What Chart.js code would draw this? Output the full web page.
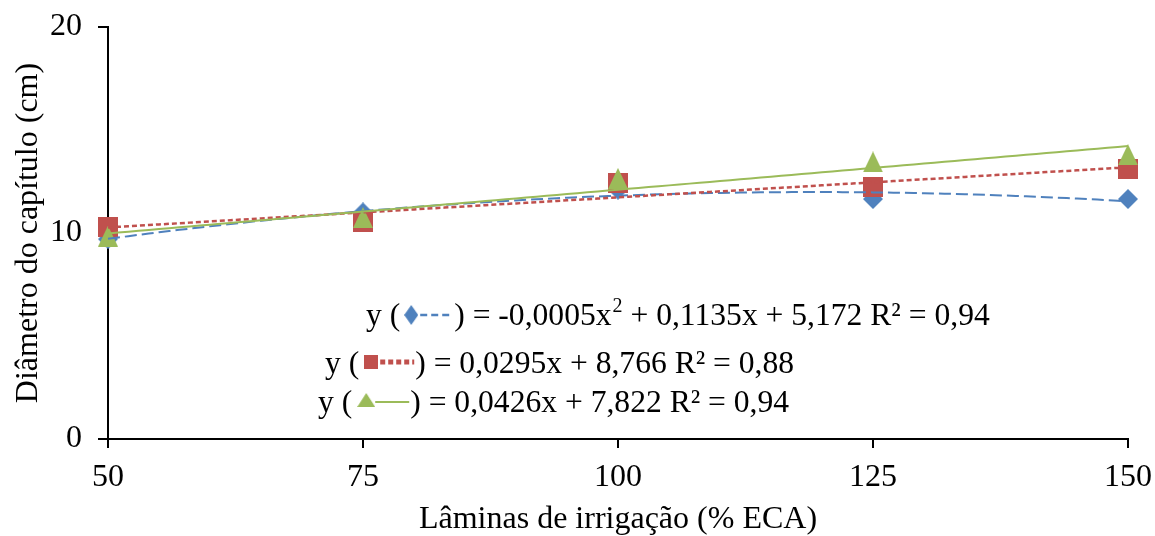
<!DOCTYPE html>
<html>
<head>
<meta charset="utf-8">
<script src="https://cdn.jsdelivr.net/npm/chart.js@4.4.1/dist/chart.umd.min.js"></script>
<style>
  html, body { margin: 0; padding: 0; background: #ffffff; }
  #wrap { width: 1155px; height: 536px; position: relative; }
  canvas { display: block; }
</style>
</head>
<body>
<div id="wrap"><canvas id="chart" width="1155" height="536"></canvas></div>
<script>
// Irrigation depths (% ECA) and measured head diameter (cm) for three treatments
const laminas = [50, 75, 100, 125, 150];
const diamBlue = [9.7, 11.0, 12.1, 11.65, 11.65];
const diamRed = [10.3, 10.55, 12.45, 12.25, 13.1];
const diamGreen = [9.85, 10.75, 12.65, 13.45, 13.8];

const xTicks = [50, 75, 100, 125, 150];
const yTicks = [0, 10, 20];

const xTitle = 'Lâminas de irrigação (% ECA)';
const yTitle = 'Diâmetro do capítulo (cm)';

// Regression equations shown on the plot: [before superscript, superscript, after]
const eqBlue = [') = -0,0005x', '2', ' + 0,1135x + 5,172 R² = 0,94'];
const eqRed = [') = 0,0295x + 8,766 R² = 0,88'];
const eqGreen = [') = 0,0426x + 7,822 R² = 0,94'];

const BLUE = '#4F81BD';
const RED = '#C0504D';
const GREEN = '#9BBB59';
const FONT = '"Liberation Serif", "Times New Roman", serif';

// Least-squares polynomial fit (trendline), returns coefficients c0..cn
function polyfit(xs, ys, order) {
  const n = order + 1;
  const A = [];
  for (let r = 0; r < n; r++) {
    A.push(new Array(n + 1).fill(0));
    for (let c = 0; c < n; c++) {
      A[r][c] = xs.reduce((s, x) => s + Math.pow(x, r + c), 0);
    }
    A[r][n] = xs.reduce((s, x, i) => s + ys[i] * Math.pow(x, r), 0);
  }
  for (let p = 0; p < n; p++) {
    let m = p;
    for (let r = p + 1; r < n; r++) if (Math.abs(A[r][p]) > Math.abs(A[m][p])) m = r;
    [A[p], A[m]] = [A[m], A[p]];
    for (let r = 0; r < n; r++) {
      if (r === p) continue;
      const f = A[r][p] / A[p][p];
      for (let c = p; c <= n; c++) A[r][c] -= f * A[p][c];
    }
  }
  return A.map((row, i) => row[n] / row[i]);
}

function trend(xs, ys, order) {
  const k = polyfit(xs, ys, order);
  const pts = [];
  for (let x = xs[0]; x <= xs[xs.length - 1]; x += 1) {
    pts.push({ x, y: k.reduce((s, c, i) => s + c * Math.pow(x, i), 0) });
  }
  return pts;
}

function pairs(xs, ys) { return xs.map((x, i) => ({ x, y: ys[i] })); }

// Filled marker shapes, drawn centred on each data point
function marker(shape, color, w, h) {
  const c = document.createElement('canvas');
  c.width = w; c.height = h;
  const g = c.getContext('2d');
  g.fillStyle = color;
  g.beginPath();
  if (shape === 'diamond') {
    g.moveTo(w / 2, 0); g.lineTo(w, h / 2); g.lineTo(w / 2, h); g.lineTo(0, h / 2);
  } else if (shape === 'square') {
    g.rect(0, 0, w, h);
  } else {
    g.moveTo(w / 2, 0); g.lineTo(w, h); g.lineTo(0, h);
  }
  g.closePath();
  g.fill();
  return c;
}

const trendStyle = { showLine: true, pointRadius: 0, pointHoverRadius: 0, fill: false, clip: false, tension: 0 };
const pointStyle = { showLine: false, pointRadius: 10, clip: false };

// Equation block with inline line-style keys
const equationPlugin = {
  id: 'equations',
  afterDraw(chart) {
    const ctx = chart.ctx;
    const size = 31.6;
    ctx.save();
    ctx.textBaseline = 'alphabetic';
    ctx.textAlign = 'left';
    const font = (s) => s + 'px ' + FONT;

    function text(str, x, y, s) {
      ctx.font = font(s || size);
      ctx.fillStyle = '#000';
      ctx.fillText(str, x, y);
      return x + ctx.measureText(str).width;
    }

    // line 1: quadratic, blue diamond + dashes
    let y = 325, x = 366;
    x = text('y (', x, y) + 4;
    ctx.drawImage(marker('diamond', BLUE, 14, 20), x, y - 20);
    x += 16;
    ctx.strokeStyle = BLUE; ctx.lineWidth = 2.5; ctx.setLineDash([7, 4]);
    ctx.beginPath(); ctx.moveTo(x, y - 10); ctx.lineTo(x + 32, y - 10); ctx.stroke();
    x += 34;
    x = text(eqBlue[0], x, y);
    x = text(eqBlue[1], x + 1, y - 13, 20);
    text(eqBlue[2], x, y);

    // line 2: linear, red square + dots
    y = 373; x = 325;
    x = text('y (', x, y) + 5;
    ctx.drawImage(marker('square', RED, 14, 14), x, y - 18);
    x += 16;
    ctx.strokeStyle = RED; ctx.lineWidth = 5; ctx.setLineDash([5, 3]);
    ctx.beginPath(); ctx.moveTo(x, y - 11); ctx.lineTo(x + 34, y - 11); ctx.stroke();
    x += 35;
    text(eqRed[0], x, y);

    // line 3: linear, green triangle + solid line
    y = 412; x = 318;
    x = text('y (', x, y) + 5;
    ctx.drawImage(marker('triangle', GREEN, 18, 14), x, y - 19);
    x += 18;
    ctx.strokeStyle = GREEN; ctx.lineWidth = 2; ctx.setLineDash([]);
    ctx.beginPath(); ctx.moveTo(x, y - 10); ctx.lineTo(x + 34, y - 10); ctx.stroke();
    x += 35;
    text(eqGreen[0], x, y);
    ctx.restore();
  }
};

const axisFont = { family: FONT, size: 32 };

new Chart(document.getElementById('chart'), {
  type: 'scatter',
  data: {
    datasets: [
      { ...trendStyle, data: trend(laminas, diamGreen, 1), borderColor: GREEN, borderWidth: 2 },
      { ...trendStyle, data: trend(laminas, diamRed, 1), borderColor: RED, borderWidth: 2.5, borderDash: [5, 3] },
      { ...trendStyle, data: trend(laminas, diamBlue, 2), borderColor: BLUE, borderWidth: 2, borderDash: [12, 5] },
      { ...pointStyle, data: pairs(laminas, diamGreen), pointStyle: marker('triangle', GREEN, 20, 21), backgroundColor: GREEN, borderColor: GREEN },
      { ...pointStyle, data: pairs(laminas, diamRed), pointStyle: marker('square', RED, 20, 20), backgroundColor: RED, borderColor: RED },
      { ...pointStyle, data: pairs(laminas, diamBlue), pointStyle: marker('diamond', BLUE, 20, 20), backgroundColor: BLUE, borderColor: BLUE }
    ]
  },
  options: {
    responsive: false,
    animation: false,
    devicePixelRatio: 1,
    layout: { padding: { top: 27, right: 27, left: 0, bottom: 0 } },
    plugins: { legend: { display: false }, tooltip: { enabled: false } },
    scales: {
      x: {
        type: 'linear',
        min: 50, max: 150,
        afterBuildTicks: (s) => { s.ticks = xTicks.map(v => ({ value: v })); },
        afterFit: (s) => { s.height = 97; s.paddingLeft = 0; s.paddingRight = 0; },
        ticks: { color: '#000', font: axisFont, padding: 10, maxRotation: 0 },
        grid: { drawOnChartArea: false, drawTicks: true, tickLength: 9, color: '#000', lineWidth: 2 },
        border: { color: '#000', width: 2 },
        title: { display: true, text: xTitle, color: '#000', font: { family: FONT, size: 32, lineHeight: 1.05 }, padding: { top: 0, bottom: 0 } }
      },
      y: {
        type: 'linear',
        min: 0, max: 20,
        afterBuildTicks: (s) => { s.ticks = yTicks.map(v => ({ value: v })); },
        afterFit: (s) => { s.width = 108; s.paddingTop = 0; s.paddingBottom = 0; },
        ticks: { color: '#000', font: axisFont, padding: 16 },
        grid: { drawOnChartArea: false, drawTicks: true, tickLength: 10, color: '#000', lineWidth: 2 },
        border: { color: '#000', width: 2 },
        title: { display: true, text: yTitle, color: '#000', font: { family: FONT, size: 32 }, padding: { top: 9, bottom: 0 } }
      }
    }
  },
  plugins: [equationPlugin]
});
</script>
</body>
</html>
